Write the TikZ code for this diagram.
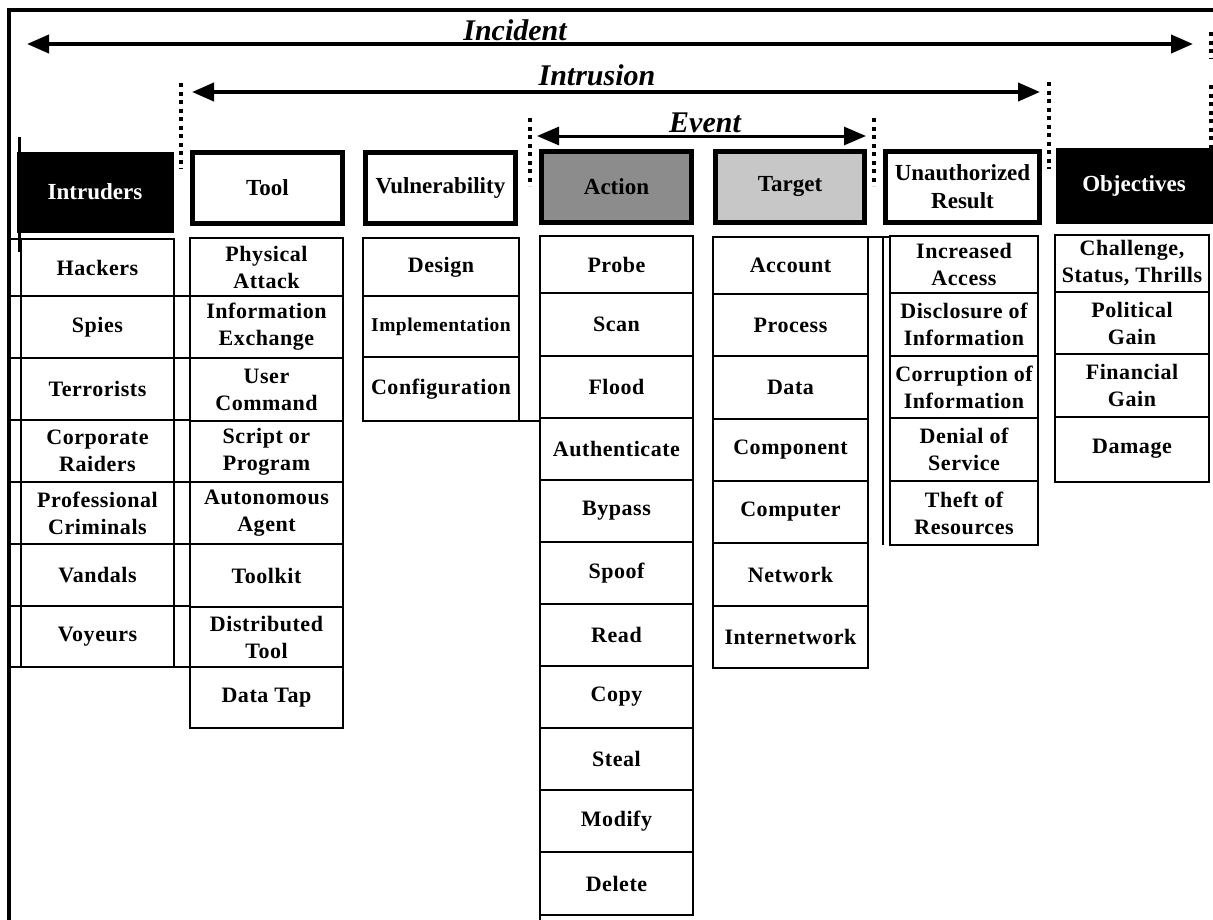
\documentclass[tikz,border=0pt]{standalone}
\usepackage{fontspec}
\setmainfont{Liberation Serif}
\newfontfamily\cellfont{Liberation Serif}[LetterSpace=2.5]
\usetikzlibrary{arrows.meta}

% one rectangular cell: [style]{name}{x1}{y1}{x2}{y2}{text}, y grows downwards
\newcommand\boxat[7][]{%
  \node[cellbox,#1,minimum width={#5-#3},minimum height={#6-#4}] (#2) at (#3,#4) {#7};}

\begin{document}
\begin{tikzpicture}[x=1pt,y=-1pt,
  cellbox/.style={draw, line width=1.3pt, rectangle, inner sep=0pt, outer sep=0pt,
    align=center, anchor=north west,
    font=\cellfont\fontsize{22}{27}\selectfont\bfseries},
  headbox/.style={line width=5pt, font=\fontsize{23}{28}\selectfont\bfseries},
  darkhead/.style={fill=black, text=white, line width=1pt,
    font=\fontsize{23}{28}\selectfont\bfseries},
  titletext/.style={anchor=base, inner sep=0pt,
    font=\fontsize{30}{30}\selectfont\bfseries\itshape},
  spanarrow/.style={line width=4pt, {Triangle[length=22pt,width=18pt]}-{Triangle[length=22pt,width=18pt]}},
  dotline/.style={line width=4pt, dash pattern=on 4pt off 4.5pt},
  rule/.style={line width=1.3pt},
]
\useasboundingbox (0,0) rectangle (1213,919);

% outer frame (left and top edges)
\coordinate (frameBL) at (9,921);
\coordinate (frameTR) at (1215,10);
\draw[line width=4pt] (frameBL) |- (frameTR);

% ---- spans: Incident, Intrusion, Event ----
\node[titletext] (incident) at (515,40) {Incident};
\coordinate (incL) at (27,44);
\coordinate (incR) at (1193,44);
\draw[spanarrow] (incL) -- (incR);

\node[titletext] (intrusion) at (597,85) {Intrusion};
\coordinate (intL) at (192,92);
\coordinate (intR) at (1040,92);
\draw[spanarrow] (intL) -- (intR);

\node[titletext] (event) at (705,132) {Event};
\coordinate (evL) at (537,136);
\coordinate (evR) at (866,136);
\draw[spanarrow, line width=3pt] (evL) -- (evR);

% dotted span boundaries
\coordinate (d1a) at (181,83);   \coordinate (d1b) at (181,169);
\coordinate (d2a) at (1049,82);  \coordinate (d2b) at (1049,169);
\coordinate (d3a) at (530,118);  \coordinate (d3b) at (530,186);
\coordinate (d4a) at (874,118);  \coordinate (d4b) at (874,186);
\coordinate (d5a) at (1211,32);  \coordinate (d5b) at (1211,58);
\coordinate (d6a) at (1211,85);  \coordinate (d6b) at (1211,150);
\foreach \a/\b in {d1a/d1b,d2a/d2b,d3a/d3b,d4a/d4b,d5a/d5b,d6a/d6b}
  \draw[dotline] (\a) -- (\b);

% ---- column headers ----
\boxat[darkhead]{hIntruders}{17}{152}{173}{232}{Intruders}
\boxat[headbox]{hTool}{192.5}{152.5}{342.5}{223.5}{Tool}
\boxat[headbox]{hVuln}{365.5}{152.5}{515.5}{223.5}{Vulnerability}
\boxat[headbox,fill=black!45]{hAction}{541.5}{151.5}{691.5}{222.5}{Action}
\boxat[headbox,fill=black!22]{hTarget}{715.5}{151.5}{864.5}{222.5}{Target}
\boxat[headbox]{hResult}{885.5}{151.5}{1039.5}{222.5}{Unauthorized\\Result}
\boxat[darkhead]{hObjectives}{1056}{148}{1212}{223}{Objectives}

% ---- Intruders ----
\boxat{hackers}{21}{239}{174}{296}{Hackers}
\boxat{spies}{21}{296}{174}{358}{Spies}
\boxat{terrorists}{21}{358}{174}{420}{Terrorists}
\boxat{raiders}{21}{420}{174}{482}{Corporate\\Raiders}
\boxat{criminals}{21}{482}{174}{544}{Professional\\Criminals}
\boxat{vandals}{21}{544}{174}{606}{Vandals}
\boxat{voyeurs}{21}{606}{174}{667}{Voyeurs}
% row rules running out to the frame and to the Tool column
\draw[rule] (9,239) -- (hackers.north west);
\foreach \y in {296,358,420,482,544,606,667}
  \draw[rule] (9,\y) -- (190,\y);
\draw[line width=3pt] (19,137) -- (19,252);

% ---- Tool ----
\boxat{physical}{190}{238}{343}{296}{Physical\\Attack}
\boxat{infoex}{190}{296}{343}{358}{Information\\Exchange}
\boxat{usercmd}{190}{358}{343}{421}{User\\Command}
\boxat{script}{190}{421}{343}{482}{Script or\\Program}
\boxat{agent}{190}{482}{343}{544}{Autonomous\\Agent}
\boxat{toolkit}{190}{544}{343}{607}{Toolkit}
\boxat{distrib}{190}{607}{343}{667}{Distributed\\Tool}
\boxat{datatap}{190}{667}{343}{728}{Data Tap}

% ---- Vulnerability ----
\boxat{design}{363}{238}{519}{296}{Design}
\boxat[font=\cellfont\fontsize{19.5}{24}\selectfont\bfseries]{implem}{363}{296}{519}{357}{Implementation}
\boxat{config}{363}{357}{519}{421}{Configuration}
\coordinate (configR) at (540,421);
\draw[rule] (config.south east) -- (configR);

% ---- Action ----
\boxat{probe}{540}{236}{693}{293}{Probe}
\boxat{scan}{540}{293}{693}{356}{Scan}
\boxat{flood}{540}{356}{693}{418}{Flood}
\boxat{authen}{540}{418}{693}{480}{Authenticate}
\boxat{bypass}{540}{480}{693}{542}{Bypass}
\boxat{spoof}{540}{542}{693}{604}{Spoof}
\boxat{read}{540}{604}{693}{666}{Read}
\boxat{copy}{540}{666}{693}{728}{Copy}
\boxat{steal}{540}{728}{693}{790}{Steal}
\boxat{modify}{540}{790}{693}{852}{Modify}
\boxat{delete}{540}{852}{693}{915}{Delete}
\coordinate (actionEnd) at (540,921);
\draw[rule] (delete.south west) -- (actionEnd);

% ---- Target ----
\boxat[line width=2.5pt]{account}{713}{237}{868}{294}{Account}
\boxat{process}{713}{294}{868}{356}{Process}
\boxat{data}{713}{356}{868}{419}{Data}
\boxat{component}{713}{419}{868}{481}{Component}
\boxat{computer}{713}{481}{868}{543}{Computer}
\boxat{network}{713}{543}{868}{606}{Network}
\boxat{internet}{713}{606}{868}{668}{Internetwork}
\coordinate (targetTopR) at (889,237);
\draw[line width=2.5pt] (account.north east) -- (targetTopR);
\coordinate (sepTop) at (883,237);
\coordinate (sepBot) at (883,545);
\draw[rule] (sepTop) -- (sepBot);

% ---- Unauthorized Result ----
\boxat{incacc}{890}{236}{1038}{293}{Increased\\Access}
\boxat{disclose}{890}{293}{1038}{356}{Disclosure of\\Information}
\boxat{corrupt}{890}{356}{1038}{418}{Corruption of\\Information}
\boxat{denial}{890}{418}{1038}{481}{Denial of\\Service}
\boxat{theft}{890}{481}{1038}{545}{Theft of\\Resources}

% ---- Objectives ----
\boxat{challenge}{1055}{235}{1209}{292}{Challenge,\\Status, Thrills}
\boxat{political}{1055}{292}{1209}{354}{Political\\Gain}
\boxat{financial}{1055}{354}{1209}{417}{Financial\\Gain}
\boxat[text depth=6pt]{damage}{1055}{417}{1209}{482}{Damage}

\end{tikzpicture}
\end{document}
